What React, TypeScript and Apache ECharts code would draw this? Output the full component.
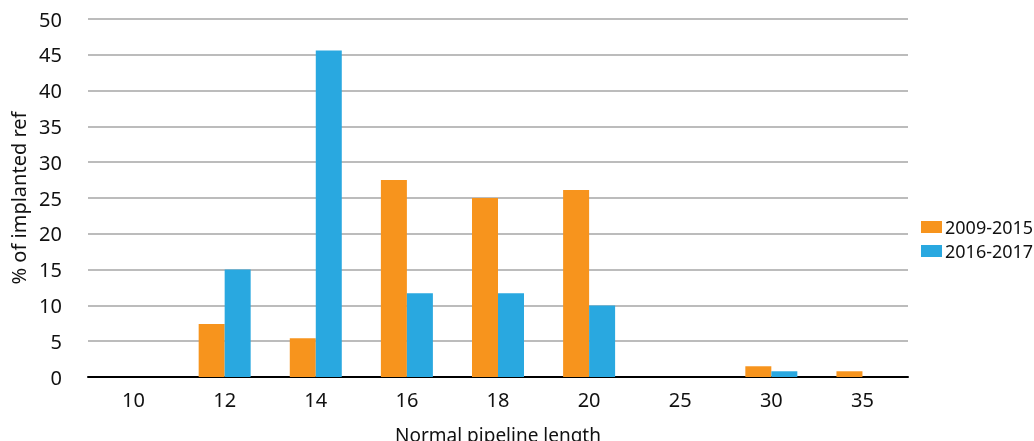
import React, { useEffect, useRef } from "react";
import * as echarts from "echarts";

const categories = ["10", "12", "14", "16", "18", "20", "25", "30", "35"];
const series2009 = [0, 7.4, 5.4, 27.5, 25.0, 26.1, 0, 1.5, 0.8];
const series2016 = [0, 15.0, 45.6, 11.7, 11.7, 10.0, 0, 0.8, 0];
const seriesNames = ["2009-2015", "2016-2017"];
const yTicks = { min: 0, max: 50, interval: 5 };

export default function App() {
  const ref = useRef<HTMLDivElement>(null);
  useEffect(() => {
    const chart = echarts.init(ref.current!, null, { renderer: "svg" });
    const font = "Noto Sans";
    chart.setOption({
      animation: false,
      textStyle: { fontFamily: font },
      grid: { left: 88, right: 126, top: 19, bottom: 64, outerBoundsMode: "none", containLabel: false },
      legend: {
        orient: "vertical",
        left: 916,
        top: 213,
        itemWidth: 21,
        itemHeight: 12,
        itemGap: 6,
        icon: "rect",
        textStyle: { fontSize: 18, color: "#111", fontFamily: font, padding: [0, 0, 0, -2] },
        data: seriesNames,
      },
      xAxis: {
        type: "category",
        data: categories,
        name: "Normal pipeline length",
        nameLocation: "middle",
        nameGap: 48,
        nameTextStyle: { fontSize: 19, color: "#111", fontFamily: font },
        axisLine: { lineStyle: { color: "#000", width: 2 } },
        axisTick: { show: false },
        axisLabel: { fontSize: 20, color: "#111", margin: 12, fontFamily: font },
      },
      yAxis: {
        type: "value",
        min: yTicks.min,
        max: yTicks.max,
        interval: yTicks.interval,
        name: "% of implanted ref",
        nameLocation: "middle",
        nameGap: 60,
        nameTextStyle: { fontSize: 20, color: "#111", fontFamily: font },
        axisLine: { show: false },
        axisTick: { show: false },
        axisLabel: { fontSize: 20, color: "#111", margin: 26, fontFamily: font },
        splitLine: { lineStyle: { color: "#a6a6a6", width: 1.5 } },
      },
      series: [
        {
          name: seriesNames[0],
          type: "bar",
          data: series2009,
          barWidth: 26,
          barGap: "0%",
          itemStyle: { color: "#F7941D" },
        },
        {
          name: seriesNames[1],
          type: "bar",
          data: series2016,
          barWidth: 26,
          barGap: "0%",
          itemStyle: { color: "#29A8E0" },
        },
      ],
    });
    return () => chart.dispose();
  }, []);
  return (
    <div
      ref={ref}
      style={{ position: "fixed", left: 0, top: 0, width: 1034, height: 441 }}
    />
  );
}
